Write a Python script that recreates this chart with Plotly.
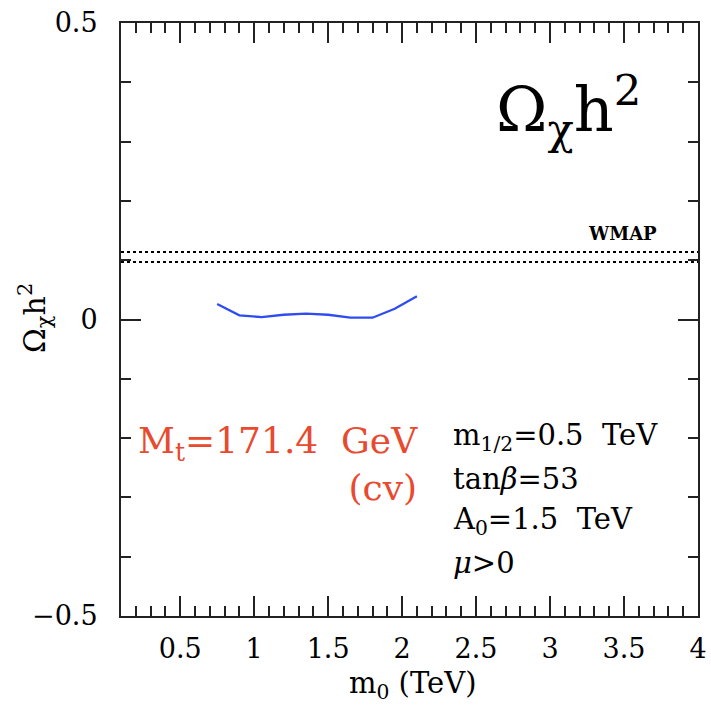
import plotly.graph_objects as go

# Data
m0 = [0.75, 0.9, 1.05, 1.2, 1.35, 1.5, 1.65, 1.8, 1.95, 2.1]
omega = [0.026, 0.007, 0.004, 0.008, 0.010, 0.008, 0.003, 0.003, 0.018, 0.039]
wmap_band = [0.097, 0.114]
x_range = [0.1, 4.0]
x_ticks = [0.5, 1, 1.5, 2, 2.5, 3, 3.5, 4]
x_ticktext = ["0.5", "1", "1.5", "2", "2.5", "3", "3.5", "4"]
y_ticks = [-0.5, 0, 0.5]
y_ticktext = ["\u22120.5", "0", "0.5"]

FONT = "DejaVu Serif"
W, H = 711, 707
L, R, T, B = 121, 13, 23, 91
PW, PH = W - L - R, H - T - B


def px(x):
    return (x - L) / PW


def py(y):
    return (H - B - y) / PH


fig = go.Figure()
for yv in wmap_band:
    fig.add_trace(go.Scatter(x=x_range, y=[yv, yv], mode="lines",
                             line=dict(color="black", width=2, dash="dot"),
                             showlegend=False, hoverinfo="skip"))
fig.add_trace(go.Scatter(x=m0, y=omega, mode="lines",
                         line=dict(color="#2f4cf2", width=2.3),
                         showlegend=False))

axis_common = dict(showgrid=False, zeroline=False, showline=True, linewidth=2,
                   linecolor="#222", mirror="allticks", ticks="inside",
                   ticklen=20, tickwidth=2, tickcolor="#222", automargin=False,
                   tickfont=dict(family=FONT, size=27, color="black"))
fig.update_xaxes(range=x_range, tickvals=x_ticks, ticktext=x_ticktext,
                 minor=dict(ticks="inside", ticklen=10, tickwidth=2, tickcolor="#222",
                            dtick=0.1, tick0=0, showgrid=False),
                 ticklabelstandoff=8, **axis_common)
fig.update_yaxes(range=[-0.5, 0.5], tickvals=y_ticks, ticktext=y_ticktext,
                 minor=dict(ticks="inside", ticklen=10, tickwidth=2, tickcolor="#222",
                            dtick=0.1, tick0=0, showgrid=False),
                 ticklabelstandoff=16, **axis_common)

ann = []
# Big label
ann.append(dict(text="\u03a9<sub>\u03c7</sub>h<sup>2</sup>", x=px(494), y=py(110),
                xanchor="left", yanchor="middle", font=dict(family=FONT, size=62, color="black")))
# WMAP
ann.append(dict(text="<b>WMAP</b>", x=px(622), y=py(233), xanchor="center", yanchor="middle",
                font=dict(family=FONT, size=18, color="black")))
# Red label
ann.append(dict(text="M<sub>t</sub>=171.4\u00a0\u00a0GeV<br>(cv)", x=px(420), y=py(464),
                xanchor="right", yanchor="middle", align="right",
                font=dict(family=FONT, size=36, color="#e84a2f")))
# Black parameter lines
lines = ["m<sub>1/2</sub>=0.5\u00a0\u00a0TeV", "tan<i>\u03b2</i>=53",
         "A<sub>0</sub>=1.5\u00a0\u00a0TeV", "<i>\u03bc</i>>0"]
ys = [437, 479, 521, 563]
for t, yy in zip(lines, ys):
    ann.append(dict(text=t, x=px(451), y=py(yy), xanchor="left", yanchor="middle",
                    font=dict(family=FONT, size=29, color="black")))
# Axis titles
ann.append(dict(text="m<sub>0</sub> (TeV)", x=px(412), y=py(685), xanchor="center", yanchor="middle",
                font=dict(family=FONT, size=29, color="black")))
ann.append(dict(text="\u03a9<sub>\u03c7</sub>h<sup>2</sup>", x=px(34), y=py(318), xanchor="center",
                yanchor="middle", textangle=-90, font=dict(family=FONT, size=30, color="black")))
for a in ann:
    a.update(xref="paper", yref="paper", showarrow=False)

fig.update_layout(width=W, height=H, margin=dict(l=L, r=R, t=T, b=B, pad=0, autoexpand=False),
                  paper_bgcolor="white", plot_bgcolor="white", annotations=ann,
                  showlegend=False)
fig.write_html("out.html")
